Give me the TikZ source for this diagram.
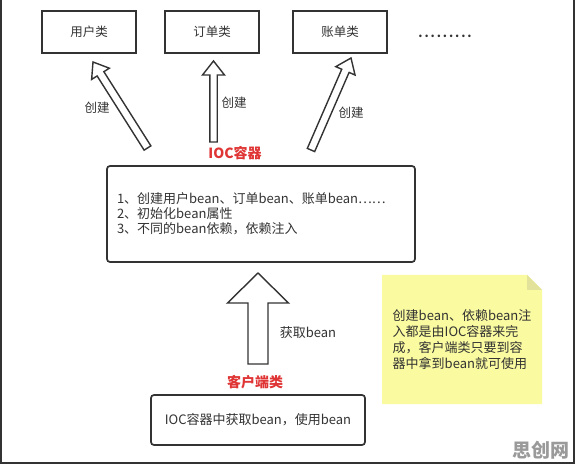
\documentclass[tikz,border=0pt]{standalone}
\usepackage{fontspec}
\setmainfont{Noto Sans CJK SC}
\usetikzlibrary{calc}
\definecolor{ink}{HTML}{333333}
\definecolor{redlab}{HTML}{E03535}
\definecolor{notey}{HTML}{FAFAA0}
\definecolor{notefold}{HTML}{E2E29A}
\definecolor{wm}{HTML}{9A9A9A}
\newcommand\blockarr[5]{%
  \coordinate (hd) at ($(#2)!#5!(#1)$);
  \draw[arrowbody] ($(#1)!#3!90:(#2)$) -- ($(hd)!#3!-90:(#1)$) -- ($(hd)!#4!-90:(#1)$) -- (#2)
    -- ($(hd)!#4!90:(#1)$) -- ($(hd)!#3!90:(#1)$) -- ($(#1)!#3!-90:(#2)$) -- cycle;}
\begin{document}
\begin{tikzpicture}[x=1pt,y=-1pt,
  classbox/.style={draw=ink,line width=1.7pt,minimum width=94pt,minimum height=42pt,inner sep=0pt,font=\fontsize{12.5}{14}\selectfont,text=ink},
  roundbox/.style={draw=ink,line width=1.7pt,rounded corners=3pt,inner sep=0pt,text=ink},
  arrowbody/.style={draw=ink,line width=1.4pt,fill=white,line join=miter},
  lab/.style={font=\fontsize{12.5}{14}\selectfont,text=ink,inner sep=0pt},
  redtitle/.style={font=\fontsize{14}{16}\selectfont\bfseries,text=redlab,inner sep=0pt}]
\useasboundingbox (0,0) rectangle (576,465);
\fill[white] (0,0) rectangle (576,465);
% frame
\draw[ink,line width=2pt] (1,0) -- (1,463) -- (574,463) -- (574,0);
% class boxes
\node[classbox] (user) at (89,32) {用户类};
\node[classbox] (order) at (212,32) {订单类};
\node[classbox] (bill) at (340,32) {账单类};
\node[lab,font=\fontsize{12}{14}\selectfont\bfseries] (dots) at (445,36) {\addfontfeature{LetterSpace=16}.........};
% arrows from container
\coordinate (t1) at (147.5,148); \coordinate (p1) at (93,62);
\coordinate (t2) at (213.5,142); \coordinate (p2) at (213.5,61);
\coordinate (t3) at (311,150); \coordinate (p3) at (351,58);
\blockarr{t1}{p1}{4pt}{10.5pt}{14pt}
\blockarr{t2}{p2}{3.7pt}{11pt}{14pt}
\blockarr{t3}{p3}{4pt}{10.5pt}{14pt}
\node[lab] (c1) at (97,108) {创建};
\node[lab] (c2) at (234,103) {创建};
\node[lab] (c3) at (351,113) {创建};
% IOC container
\node[redtitle] (ioctitle) at (235,153) {IOC容器};
\node[roundbox,minimum width=308pt,minimum height=96pt,text width=288pt,align=left,
  font=\fontsize{13}{15}\selectfont] (ioc) at (261,214)
  {1、创建用户bean、订单bean、账单bean……\\2、初始化bean属性\\3、不同的bean依赖，依赖注入};
% client
\coordinate (tb) at (258,364); \coordinate (pb) at (258,273);
\blockarr{tb}{pb}{10pt}{30.5pt}{30pt}
\node[lab,font=\fontsize{13}{14}\selectfont] (get) at (308,333) {获取bean};
\node[redtitle] (clienttitle) at (255,382) {客户端类};
\node[roundbox,minimum width=214pt,minimum height=50pt,font=\fontsize{13}{14}\selectfont] (client) at (258,420) {IOC容器中获取bean，使用bean};
% note
\coordinate (nnw) at (382,275); \coordinate (nse) at (542,404);
\coordinate (fa) at (527,275); \coordinate (fb) at (542,290); \coordinate (fc) at (527,290);
\fill[notey] (nnw) -- (fa) -- (fb) -- (nse) -- (nnw |- nse) -- cycle;
\fill[notefold] (fa) -- (fc) -- (fb) -- cycle;
\node[inner sep=0pt,align=left,text=ink,font=\fontsize{13}{16}\selectfont] (note) at (462,340)
  {创建bean、依赖bean注\\入都是由IOC容器来完\\成，客户端类只要到容\\器中拿到bean就可使用};
% watermark
\node[inner sep=0pt,text=wm,font=\fontsize{19}{21}\selectfont\bfseries] (wmark) at (541,450) {思创网};
\end{tikzpicture}
\end{document}
